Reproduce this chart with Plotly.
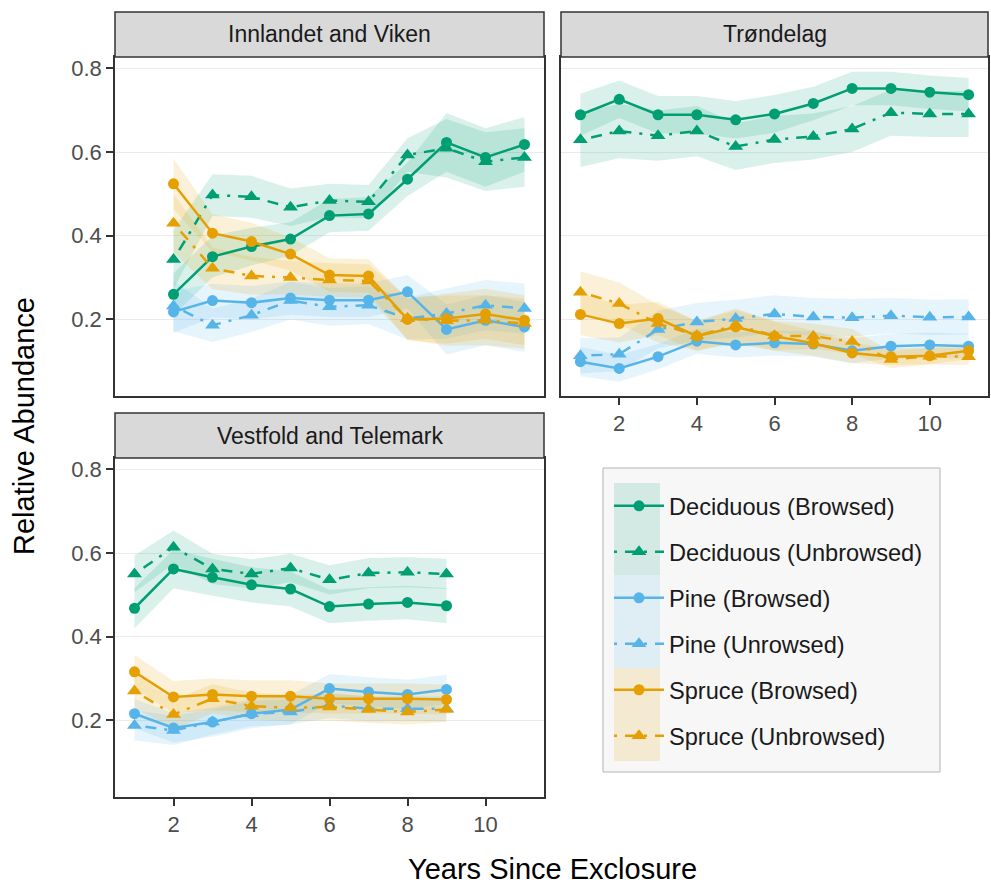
import plotly.graph_objects as go

# ---------------- data ----------------
years_iv = [2, 3, 4, 5, 6, 7, 8, 9, 10, 11]
years_tr = [1, 2, 3, 4, 5, 6, 7, 8, 9, 10, 11]
years_vt = [1, 2, 3, 4, 5, 6, 7, 8, 9]

# Innlandet and Viken
iv_dec_b = [0.260, 0.350, 0.374, 0.392, 0.448, 0.452, 0.535, 0.623, 0.587, 0.618]
iv_dec_u = [0.343, 0.497, 0.493, 0.468, 0.484, 0.481, 0.593, 0.609, 0.577, 0.587]
iv_pine_b = [0.218, 0.245, 0.240, 0.251, 0.246, 0.246, 0.266, 0.176, 0.198, 0.182]
iv_pine_u = [0.232, 0.186, 0.210, 0.245, 0.230, 0.234, 0.202, 0.214, 0.234, 0.226]
iv_spr_b = [0.524, 0.406, 0.386, 0.356, 0.306, 0.304, 0.200, 0.202, 0.213, 0.198]
iv_spr_u = [0.430, 0.322, 0.304, 0.300, 0.294, 0.292, 0.202, 0.197, 0.198, 0.190]
iv_dec_b_ci = [0.05, 0.05, 0.045, 0.04, 0.04, 0.04, 0.04, 0.07, 0.07, 0.065]
iv_dec_u_ci = [0.07, 0.05, 0.05, 0.045, 0.04, 0.04, 0.04, 0.07, 0.07, 0.07]
iv_pine_b_ci = [0.05, 0.04, 0.04, 0.04, 0.04, 0.04, 0.04, 0.06, 0.06, 0.06]
iv_pine_u_ci = [0.06, 0.04, 0.04, 0.045, 0.045, 0.045, 0.05, 0.06, 0.06, 0.06]
iv_spr_b_ci = [0.06, 0.045, 0.045, 0.04, 0.04, 0.04, 0.05, 0.06, 0.06, 0.06]
iv_spr_u_ci = [0.07, 0.05, 0.045, 0.04, 0.04, 0.04, 0.05, 0.06, 0.06, 0.06]

# Trøndelag
tr_dec_b = [0.689, 0.726, 0.689, 0.689, 0.677, 0.691, 0.716, 0.752, 0.752, 0.743, 0.737]
tr_dec_u = [0.629, 0.650, 0.639, 0.650, 0.613, 0.630, 0.637, 0.655, 0.694, 0.691, 0.691]
tr_pine_b = [0.099, 0.083, 0.111, 0.148, 0.139, 0.144, 0.141, 0.125, 0.136, 0.139, 0.136]
tr_pine_u = [0.113, 0.117, 0.176, 0.194, 0.202, 0.213, 0.206, 0.204, 0.209, 0.205, 0.206]
tr_spr_b = [0.212, 0.190, 0.202, 0.160, 0.182, 0.160, 0.143, 0.120, 0.111, 0.113, 0.125]
tr_spr_u = [0.265, 0.238, 0.190, 0.161, 0.186, 0.161, 0.160, 0.147, 0.104, 0.112, 0.111]
tr_dec_b_ci = [0.05, 0.045, 0.045, 0.045, 0.045, 0.045, 0.04, 0.04, 0.04, 0.04, 0.04]
tr_dec_u_ci = [0.065, 0.065, 0.06, 0.06, 0.056, 0.056, 0.055, 0.055, 0.055, 0.055, 0.055]
tr_pine_b_ci = [0.035, 0.032, 0.03, 0.03, 0.03, 0.03, 0.03, 0.03, 0.03, 0.03, 0.03]
tr_pine_u_ci = [0.042, 0.04, 0.045, 0.045, 0.045, 0.045, 0.045, 0.045, 0.042, 0.042, 0.042]
tr_spr_b_ci = [0.05, 0.045, 0.04, 0.035, 0.04, 0.035, 0.03, 0.025, 0.02, 0.02, 0.02]
tr_spr_u_ci = [0.05, 0.05, 0.045, 0.035, 0.04, 0.035, 0.03, 0.03, 0.02, 0.02, 0.02]

# Vestfold and Telemark
vt_dec_b = [0.468, 0.562, 0.542, 0.524, 0.514, 0.472, 0.478, 0.482, 0.474]
vt_dec_u = [0.550, 0.614, 0.562, 0.550, 0.564, 0.536, 0.552, 0.554, 0.550]
vt_pine_b = [0.216, 0.182, 0.196, 0.216, 0.226, 0.276, 0.268, 0.262, 0.274]
vt_pine_u = [0.188, 0.176, 0.196, 0.216, 0.220, 0.236, 0.228, 0.228, 0.228]
vt_spr_b = [0.316, 0.256, 0.262, 0.258, 0.258, 0.252, 0.252, 0.252, 0.250]
vt_spr_u = [0.270, 0.214, 0.252, 0.234, 0.230, 0.232, 0.226, 0.220, 0.226]
vt_dec_b_ci = [0.048, 0.046, 0.044, 0.042, 0.042, 0.04, 0.04, 0.04, 0.042]
vt_dec_u_ci = [0.044, 0.04, 0.036, 0.035, 0.034, 0.035, 0.036, 0.036, 0.036]
vt_pine_b_ci = [0.035, 0.035, 0.035, 0.035, 0.035, 0.035, 0.035, 0.035, 0.035]
vt_pine_u_ci = [0.036, 0.035, 0.03, 0.03, 0.03, 0.03, 0.03, 0.03, 0.03]
vt_spr_b_ci = [0.04, 0.038, 0.038, 0.038, 0.038, 0.036, 0.036, 0.036, 0.036]
vt_spr_u_ci = [0.04, 0.035, 0.035, 0.032, 0.032, 0.032, 0.032, 0.03, 0.03]

panel_titles = ["Innlandet and Viken", "Trøndelag", "Vestfold and Telemark"]
series_names = ["Deciduous (Browsed)", "Deciduous (Unbrowsed)", "Pine (Browsed)",
                "Pine (Unrowsed)", "Spruce (Browsed)", "Spruce (Unbrowsed)"]
x_ticks = [2, 4, 6, 8, 10]
y_ticks = [0.2, 0.4, 0.6, 0.8]

# ---------------- style ----------------
W, H = 991, 884
GREEN, BLUE, ORANGE = "#009E73", "#56B4E9", "#E69F00"
FILLS = {GREEN: "rgba(0,158,115,0.15)", BLUE: "rgba(86,180,233,0.15)",
         ORANGE: "rgba(230,159,0,0.15)"}
series_colors = [GREEN, GREEN, BLUE, BLUE, ORANGE, ORANGE]
series_dash = ["solid", "3px,8px,11px,8px"] * 3
series_symbol = ["circle", "triangle-up"] * 3
FONT = "Liberation Sans, Arial, Helvetica, sans-serif"


def fx(px):
    return px / W


def fy(py):
    return 1 - py / H


panels = [
    dict(ax="", years=years_iv,
         means=[iv_dec_b, iv_dec_u, iv_pine_b, iv_pine_u, iv_spr_b, iv_spr_u],
         cis=[iv_dec_b_ci, iv_dec_u_ci, iv_pine_b_ci, iv_pine_u_ci, iv_spr_b_ci, iv_spr_u_ci],
         box=(115, 57, 544, 396), strip=(115, 12, 544, 57), xlab=False, ylab=True),
    dict(ax="2", years=years_tr,
         means=[tr_dec_b, tr_dec_u, tr_pine_b, tr_pine_u, tr_spr_b, tr_spr_u],
         cis=[tr_dec_b_ci, tr_dec_u_ci, tr_pine_b_ci, tr_pine_u_ci, tr_spr_b_ci, tr_spr_u_ci],
         box=(561, 57, 988, 396), strip=(561, 12, 988, 57), xlab=True, ylab=False),
    dict(ax="3", years=years_vt,
         means=[vt_dec_b, vt_dec_u, vt_pine_b, vt_pine_u, vt_spr_b, vt_spr_u],
         cis=[vt_dec_b_ci, vt_dec_u_ci, vt_pine_b_ci, vt_pine_u_ci, vt_spr_b_ci, vt_spr_u_ci],
         box=(115, 458, 544, 797), strip=(115, 413, 544, 458), xlab=True, ylab=True),
]

fig = go.Figure()

for pi, p in enumerate(panels):
    xa, ya = "x" + p["ax"], "y" + p["ax"]
    xs = p["years"]
    # ribbons
    for si in range(6):
        m, c = p["means"][si], p["cis"][si]
        hi = [a + b for a, b in zip(m, c)]
        lo = [a - b for a, b in zip(m, c)]
        fig.add_trace(go.Scatter(
            x=list(xs) + list(xs)[::-1], y=hi + lo[::-1],
            fill="toself", fillcolor=FILLS[series_colors[si]],
            line=dict(width=0), mode="lines", hoverinfo="skip",
            showlegend=False, xaxis=xa, yaxis=ya))
    # lines + points
    for si in range(6):
        fig.add_trace(go.Scatter(
            x=xs, y=p["means"][si], mode="lines+markers",
            name=series_names[si], legendgroup=series_names[si],
            showlegend=(pi == 0),
            line=dict(color=series_colors[si], width=2.5, dash=series_dash[si]),
            marker=dict(color=series_colors[si], symbol=series_symbol[si],
                        size=11 if series_symbol[si] == "circle" else 13,
                        line=dict(width=0)),
            xaxis=xa, yaxis=ya))

layout = dict(
    width=W, height=H, autosize=False,
    margin=dict(l=0, r=0, t=0, b=0),
    paper_bgcolor="white", plot_bgcolor="white",
    font=dict(family=FONT, color="#1a1a1a"),
    showlegend=True,
    legend=dict(x=fx(609), y=fy(484), xanchor="left", yanchor="top",
                bgcolor="rgba(0,0,0,0)", borderwidth=0,
                font=dict(size=23.6, family=FONT, color="#1a1a1a"),
                traceorder="grouped", tracegroupgap=12.3, itemwidth=50),
)

shapes = []
annotations = []
for p in panels:
    x0, y0, x1, y1 = p["box"]
    axis_common = dict(showline=True, mirror=True, linecolor="#333333", linewidth=1.5,
                       zeroline=False, tickcolor="#333333", tickwidth=1.5, ticklen=7,
                       tickfont=dict(size=22, color="#4d4d4d", family=FONT))
    fig_x = dict(axis_common, domain=[fx(x0), fx(x1)], range=[0.5, 11.5],
                 anchor="y" + p["ax"], tickvals=x_ticks, showgrid=False,
                 ticks="outside" if p["xlab"] else "", showticklabels=p["xlab"])
    fig_y = dict(axis_common, domain=[fy(y1), fy(y0)], range=[0.017, 0.827],
                 anchor="x" + p["ax"], tickvals=y_ticks, tickformat=".1f",
                 showgrid=True, gridcolor="#ebebeb", gridwidth=1.3,
                 ticks="outside" if p["ylab"] else "", showticklabels=p["ylab"])
    layout["xaxis" + p["ax"]] = fig_x
    layout["yaxis" + p["ax"]] = fig_y
    sx0, sy0, sx1, sy1 = p["strip"]
    shapes.append(dict(type="rect", xref="paper", yref="paper",
                       x0=fx(sx0), x1=fx(sx1), y0=fy(sy1), y1=fy(sy0),
                       fillcolor="#d9d9d9", line=dict(color="#333333", width=1.5)))

for p, t in zip(panels, panel_titles):
    sx0, sy0, sx1, sy1 = p["strip"]
    annotations.append(dict(text=t, xref="paper", yref="paper",
                            x=fx((sx0 + sx1) / 2), y=fy((sy0 + sy1) / 2),
                            xanchor="center", yanchor="middle", showarrow=False,
                            font=dict(size=23, color="#1a1a1a", family=FONT)))

# legend backdrop
shapes.append(dict(type="rect", xref="paper", yref="paper", layer="below",
                   x0=fx(603), x1=fx(940), y0=fy(772), y1=fy(468),
                   fillcolor="#f7f7f7", line=dict(color="#b3b3b3", width=1)))
for (ky0, ky1), col in zip([(483, 575), (575, 668), (668, 761)], [GREEN, BLUE, ORANGE]):
    shapes.append(dict(type="rect", xref="paper", yref="paper", layer="below",
                       x0=fx(614), x1=fx(660), y0=fy(ky1), y1=fy(ky0),
                       fillcolor=FILLS[col], line=dict(width=0)))

annotations.append(dict(text="Years Since Exclosure", xref="paper", yref="paper",
                        x=fx(552), y=fy(869), xanchor="center", yanchor="middle",
                        showarrow=False, font=dict(size=29, color="black", family=FONT)))
annotations.append(dict(text="Relative Abundance", xref="paper", yref="paper",
                        x=fx(24), y=fy(426), xanchor="center", yanchor="middle",
                        textangle=-90, showarrow=False,
                        font=dict(size=29, color="black", family=FONT)))

layout["shapes"] = shapes
layout["annotations"] = annotations
fig.update_layout(**layout)

fig.write_html("out.html")
